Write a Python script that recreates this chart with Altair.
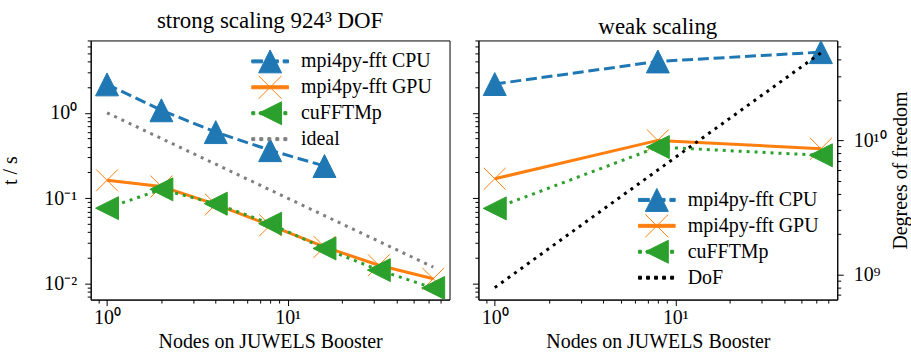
import altair as alt
import pandas as pd

# ---------------- data ----------------
strong_nodes = [1, 2, 4, 8, 16, 32, 64]
strong_cpu_nodes = [1, 2, 4, 8, 16]
strong_cpu = [2.15, 1.07, 0.594, 0.365, 0.238]
strong_gpu = [0.162, 0.137, 0.0845, 0.0482, 0.0269, 0.0164, 0.0114]
strong_cufft = [0.0765, 0.127, 0.0863, 0.0503, 0.0258, 0.0144, 0.0089]
strong_ideal = [1.0, 0.5, 0.25, 0.125, 0.0625, 0.03125, 0.015625]

weak_nodes = [1, 8, 64]
weak_cpu = [2.17, 3.99, 5.13]
weak_gpu = [0.169, 0.475, 0.379]
weak_cufft = [0.0760, 0.397, 0.318]
weak_dof = [7.94e8, 6.0e9, 4.5e10]

strong_legend = ["mpi4py-fft CPU", "mpi4py-fft GPU", "cuFFTMp", "ideal"]
weak_legend = ["mpi4py-fft CPU", "mpi4py-fft GPU", "cuFFTMp", "DoF"]

x_ticks = [0.9] + list(range(1, 10)) + [10, 20, 30, 40, 50, 60, 70]
y_ticks = [0.007, 0.008, 0.009, 0.01, 0.02, 0.03, 0.04, 0.05, 0.06, 0.07, 0.08, 0.09,
           0.1, 0.2, 0.3, 0.4, 0.5, 0.6, 0.7, 0.8, 0.9, 1, 2, 3, 4, 5, 6, 7]
dof_ticks = [7e8, 8e8, 9e8, 1e9, 2e9, 3e9, 4e9, 5e9, 6e9, 7e9, 8e9, 9e9,
             1e10, 2e10, 3e10, 4e10, 5e10]

X_DOMAIN = [0.812, 78.8]
Y_DOMAIN = [0.0065, 7.03]
DOF_DOMAIN = [6.46e8, 5.57e10]

# ---------------- style ----------------
FONT = "Liberation Serif"
BLUE, ORANGE, GREEN, GRAY, BLACK = "#1f77b4", "#ff7f0e", "#2ca02c", "#7f7f7f", "#000000"
LW = 3
FS = 20
TFS = 23

TRI_UP = "M0,-1L-1,1L1,1Z"
TRI_LEFT = "M-1,0L1,1L1,-1Z"
XMARK = "M-1,-1L1,1M-1,1L1,-1"


def handle(pattern, marker="", x0=-1.6, x1=1.6, h=0.13):
    """legend handle: line drawn as small filled rectangles + marker path"""
    parts = []
    if pattern is None:
        parts.append(f"M{x0},{-h}V{h}H{x1}V{-h}Z")
    else:
        on, off = pattern
        x = x0
        while x < x1:
            b = min(x + on, x1)
            parts.append(f"M{x:.3f},{-h}V{h}H{b:.3f}V{-h}Z")
            x += on + off
    return "".join(parts) + marker


DASH = (0.95, 0.42)
DOT = (0.26, 0.44)

strong_legend_colors = [BLUE, ORANGE, GREEN, GRAY]
strong_legend_shapes = [handle(DASH, TRI_UP), handle(None, XMARK), handle(DOT, TRI_LEFT), handle(DOT)]
weak_legend_colors = [BLUE, ORANGE, GREEN, BLACK]
weak_legend_shapes = [handle(DASH, TRI_UP), handle(None, XMARK), handle(DOT, TRI_LEFT), handle(DOT)]

x_label = "datum.value == 1 ? '10⁰' : datum.value == 10 ? '10¹' : ''"
x_major = "datum.value == 1 || datum.value == 10"
y_label = "datum.value == 1 ? '10⁰' : datum.value == 0.1 ? '10⁻¹' : datum.value == 0.01 ? '10⁻²' : ''"
y_major = "datum.value == 1 || datum.value == 0.1 || datum.value == 0.01"
dof_label = "datum.value == 1e9 ? '10⁹' : datum.value == 1e10 ? '10¹⁰' : ''"
dof_major = "datum.value == 1e9 || datum.value == 1e10"

W, H = 360, 260


def tick_size(test):
    return {"condition": {"test": test, "value": 6}, "value": 3.5}


def x_enc():
    return alt.X("n:Q", scale=alt.Scale(type="log", domain=X_DOMAIN, nice=False),
                 axis=alt.Axis(values=x_ticks, labelExpr=x_label, tickSize=tick_size(x_major),
                               title="Nodes on JUWELS Booster", labelOverlap=False, labelFlush=False,
                               labelPadding=2, titlePadding=4))


def y_enc(show_labels):
    if show_labels:
        ax = alt.Axis(values=y_ticks, labelExpr=y_label, tickSize=tick_size(y_major),
                      title="t / s", labelOverlap=False, labelFlush=False, labelPadding=8,
                      titlePadding=23)
    else:
        ax = alt.Axis(values=y_ticks, labels=False, tickSize=tick_size(y_major), title=None)
    return alt.Y("t:Q", scale=alt.Scale(type="log", domain=Y_DOMAIN, nice=False), axis=ax)


def series_layers(nodes, vals, color, dash, shape, filled, size, show_y):
    df = pd.DataFrame({"n": nodes, "t": vals})
    base = alt.Chart(df)
    line_kw = dict(color=color, strokeWidth=LW, clip=True, strokeCap="butt")
    if dash is not None:
        line_kw["strokeDash"] = dash
    layers = [base.mark_line(**line_kw).encode(x=x_enc(), y=y_enc(show_y))]
    if shape is not None:
        pkw = dict(shape=shape, size=size, color=color, opacity=1, clip=True, strokeWidth=1)
        if filled:
            pkw.update(filled=True, stroke=color)
        else:
            pkw.update(filled=False)
        layers.append(base.mark_point(**pkw).encode(x=x_enc(), y=y_enc(show_y)))
    return layers


def legend_layer(names, colors, shapes, lx, ly):
    df = pd.DataFrame({"s": names})
    leg = alt.Legend(title=None, orient="none", legendX=lx, legendY=ly, symbolSize=529,
                     symbolStrokeWidth=1, symbolOpacity=1, labelFont=FONT, labelFontSize=FS,
                     labelColor="black", rowPadding=-4.4, labelOffset=19, padding=0)
    return alt.Chart(df).mark_point(opacity=1, filled=False).encode(
        shape=alt.Shape("s:N", sort=names, scale=alt.Scale(domain=names, range=shapes), legend=leg),
        fill=alt.Fill("s:N", sort=names, scale=alt.Scale(domain=names, range=colors), legend=leg),
        stroke=alt.Stroke("s:N", sort=names, scale=alt.Scale(domain=names, range=colors), legend=leg),
    ).transform_filter("false")


DASHPAT = [11, 4.8]
DOTPAT = [3, 5]

left_layers = []
left_layers += series_layers(strong_cpu_nodes, strong_cpu, BLUE, DASHPAT, TRI_UP, True, 529, True)
left_layers += series_layers(strong_nodes, strong_gpu, ORANGE, None, XMARK, False, 484, True)
left_layers += series_layers(strong_nodes, strong_cufft, GREEN, DOTPAT, TRI_LEFT, True, 529, True)
left_layers += series_layers(strong_nodes, strong_ideal, GRAY, DOTPAT, None, False, 0, True)
left_layers.append(legend_layer(strong_legend, strong_legend_colors, strong_legend_shapes, 168, 9))

left = alt.layer(*left_layers).properties(
    width=W, height=H,
    title=alt.TitleParams("strong scaling 924³ DOF", font=FONT, fontSize=TFS, fontWeight="normal",
                          color="black", offset=-2))

right_time = []
right_time += series_layers(weak_nodes, weak_cpu, BLUE, DASHPAT, TRI_UP, True, 529, False)
right_time += series_layers(weak_nodes, weak_gpu, ORANGE, None, XMARK, False, 484, False)
right_time += series_layers(weak_nodes, weak_cufft, GREEN, DOTPAT, TRI_LEFT, True, 529, False)
right_time.append(legend_layer(weak_legend, weak_legend_colors, weak_legend_shapes, 167, 148))

dof_df = pd.DataFrame({"n": weak_nodes, "dof": weak_dof})
dof_line = alt.Chart(dof_df).mark_line(color=BLACK, strokeWidth=LW, strokeDash=DOTPAT, clip=True,
                                       strokeCap="butt").encode(
    x=x_enc(),
    y=alt.Y("dof:Q", scale=alt.Scale(type="log", domain=DOF_DOMAIN, nice=False),
            axis=alt.Axis(orient="right", values=dof_ticks, labelExpr=dof_label,
                          tickSize=tick_size(dof_major), title="Degrees of freedom",
                          titleAngle=270, titleBaseline="top", labelOverlap=False,
                          labelFlush=False, labelPadding=10, titlePadding=4)))

right = alt.layer(alt.layer(*right_time), dof_line).resolve_scale(y="independent").properties(
    width=W, height=H,
    title=alt.TitleParams("weak scaling", font=FONT, fontSize=TFS, fontWeight="normal",
                          color="black", offset=-2))

chart = alt.hconcat(left, right, spacing=21).resolve_scale(
    shape="independent", fill="independent", stroke="independent"
).resolve_legend(shape="independent", fill="independent", stroke="independent").configure_axis(
    labelFont=FONT, labelFontSize=FS, labelColor="black", titleFont=FONT, titleFontSize=FS,
    titleFontWeight="normal", titleColor="black", domainColor="black", tickColor="black",
    grid=False, tickWidth=1, domainWidth=1
).configure_view(stroke="black", strokeWidth=1).properties(
    padding={"left": 0, "top": 8, "right": 0, "bottom": 0}, background="white")

chart.save("out.html", embed_options={"renderer": "svg", "actions": False})
